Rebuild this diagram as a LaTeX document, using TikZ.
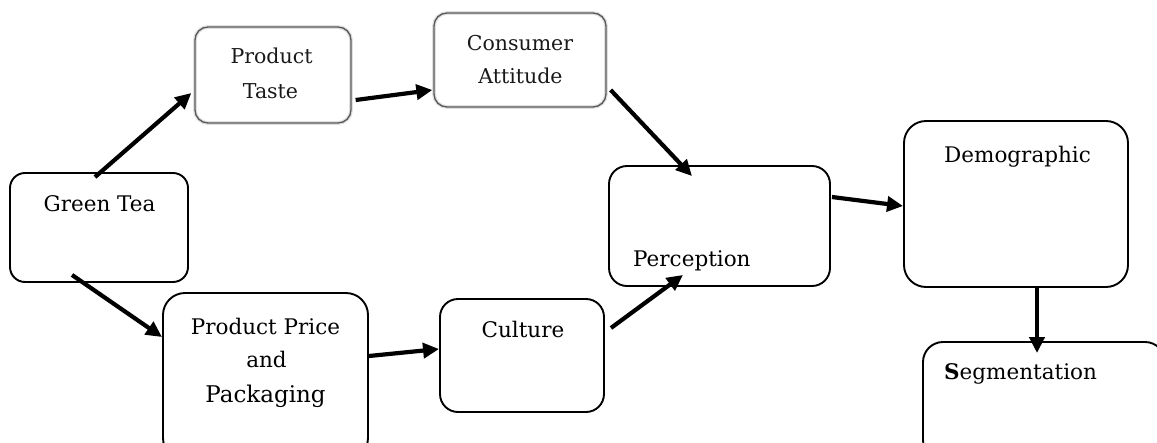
\documentclass[tikz,border=0pt]{standalone}
\usepackage{fontspec}
\setmainfont{DejaVu Serif}
\usetikzlibrary{arrows.meta,calc}
\begin{document}
\begin{tikzpicture}[x=1pt,y=-1pt,
  box/.style={draw=black,line width=1.9pt,rounded corners=#1,inner sep=0pt},
  box/.default=18pt,
  softbox/.style={draw=black!65,line width=1.3pt,rounded corners=13pt,inner sep=0pt,
    preaction={draw=black!12,line width=3.8pt}},
  lbl/.style={inner sep=0pt,anchor=base,font=\fontsize{21.5}{24}\selectfont},
  softlbl/.style={inner sep=0pt,anchor=base,text=black!90,font=\fontsize{20.5}{23}\selectfont},
  arr/.style={line width=4.2pt,-{Triangle[length=16pt,width=15pt]}}
]
\useasboundingbox (0,0) rectangle (1157,442);
\clip (0,0) rectangle (1157,442);

% boxes
\node[box=15pt, minimum width=178pt, minimum height=109pt] (gt) at (99,227.5) {};
\node[softbox, minimum width=156pt, minimum height=96pt] (pt) at (273,75) {};
\node[softbox, minimum width=172pt, minimum height=94pt] (ca) at (520,60) {};
\node[box=18pt, minimum width=221pt, minimum height=120pt] (pc) at (719.5,226) {};
\node[box=22pt, minimum width=224pt, minimum height=166pt] (dm) at (1016,204) {};
\node[box=20pt, minimum width=242pt, minimum height=118pt] (sg) at (1044,401) {};
\node[box=22pt, minimum width=205pt, minimum height=167pt] (pp) at (265.5,376.5) {};
\node[box=18pt, minimum width=164pt, minimum height=113pt] (cu) at (522,355.5) {};

% texts
\node[lbl] (tgt) at (99.5,211) {Green Tea};
\node[softlbl] (tpt1) at (271.5,63) {Product};
\node[softlbl] (tpt2) at (270.5,98) {Taste};
\node[softlbl] (tca1) at (520,50) {Consumer};
\node[softlbl] (tca2) at (520.5,83) {Attitude};
\node[lbl,anchor=base west] (tpc) at (633,266) {Perception};
\node[lbl] (tdm) at (1017.5,162) {Demographic};
\node[lbl,anchor=base west] (tsg) at (944,379) {\textbf{S}egmentation};
\node[lbl] (tpp1) at (265.5,334) {Product Price};
\node[lbl] (tpp2) at (266.5,367) {and};
\node[lbl,font=\fontsize{23}{26}\selectfont] (tpp3) at (265.5,402) {Packaging};
\node[lbl] (tcu) at (523,337) {Culture};

% connectors
\draw[arr] ([xshift=-4pt,yshift=-5pt]gt.north) -- ([xshift=-3pt,yshift=-18pt]pt.west);
\draw[arr] ([xshift=-27pt,yshift=8pt]gt.south) -- ([yshift=-45pt]pp.north west);
\draw[arr] ([xshift=4pt,yshift=-25pt]pt.east) -- ([xshift=-1pt,yshift=-30pt]ca.west);
\draw[arr] ([xshift=4pt,yshift=-30pt]ca.east) -- ([xshift=-27.5pt,yshift=-11pt]pc.north);
\draw[arr] ([yshift=20.5pt]pp.east) -- ([yshift=6.5pt]cu.west);
\draw[arr] ([xshift=6pt,yshift=27.5pt]cu.east) -- ([xshift=-36.5pt,yshift=12pt]pc.south);
\draw[arr] ([xshift=1pt,yshift=29pt]pc.east) -- ([yshift=-2pt]dm.west);
\draw[arr] ([xshift=21pt]dm.south) -- ([xshift=-7pt,yshift=-12pt]sg.north);
\end{tikzpicture}
\end{document}
